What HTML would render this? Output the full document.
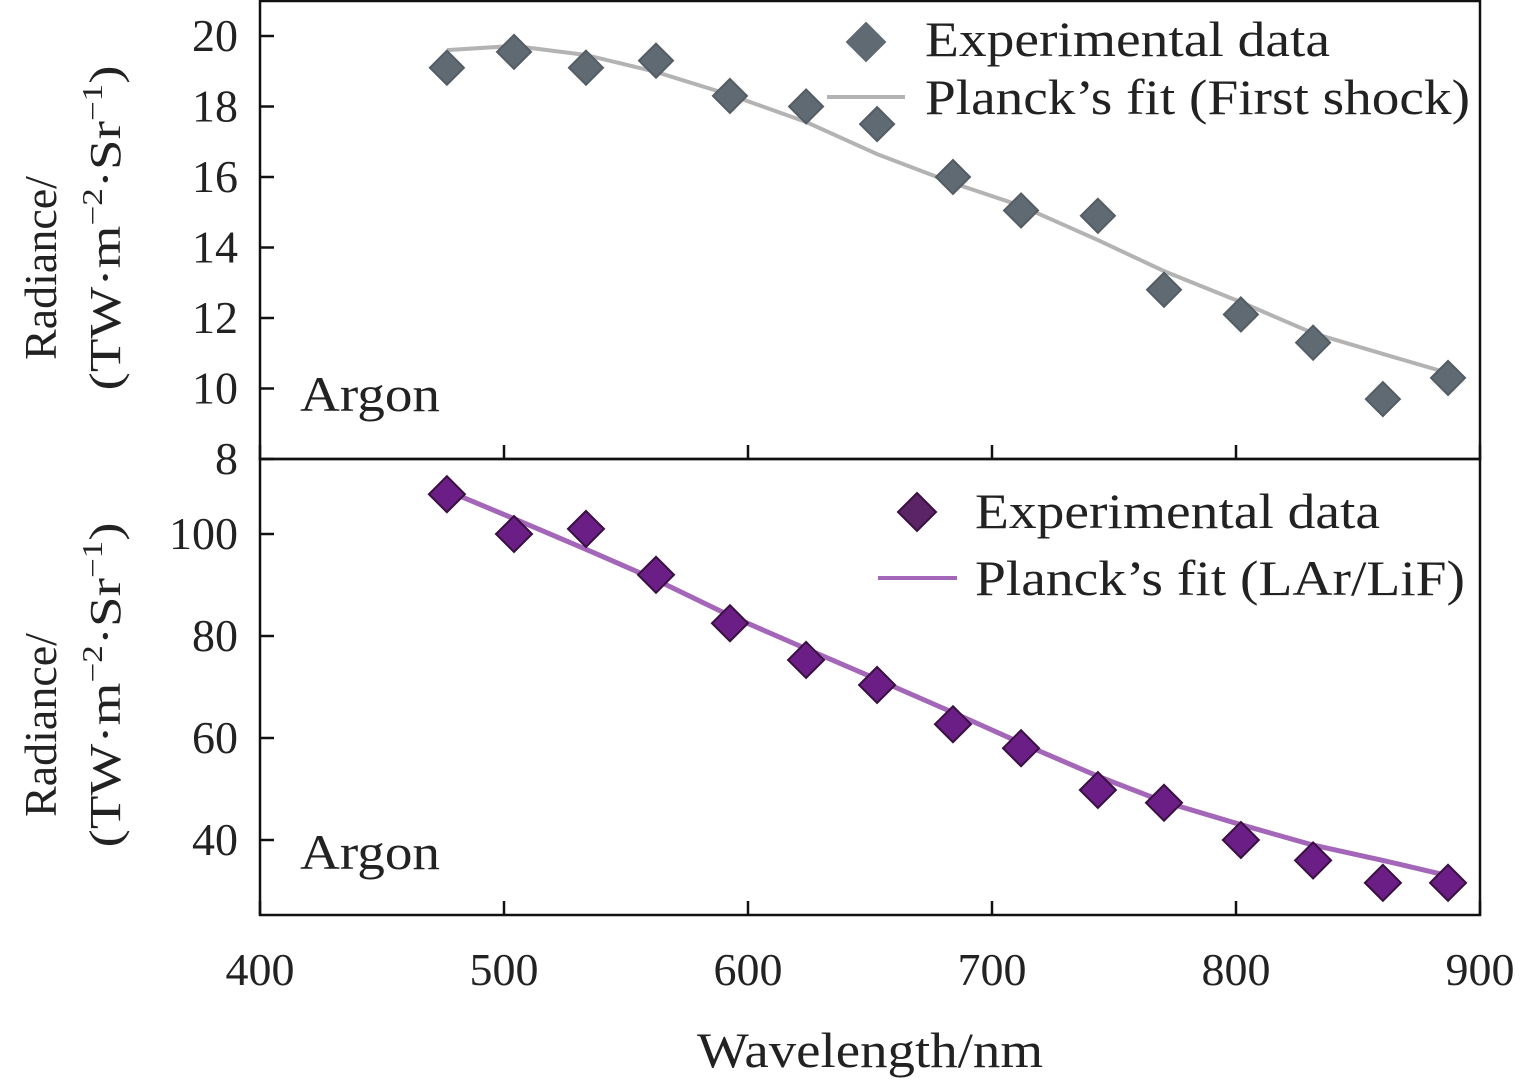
<!DOCTYPE html>
<html><head><meta charset="utf-8"><style>
html,body{margin:0;padding:0;background:#fff;}
svg{display:block;font-family:"Liberation Serif","Times New Roman",serif;}
</style></head><body>
<svg id="chart" width="1535" height="1085" xmlns="http://www.w3.org/2000/svg"></svg>
<script>
const wavelengths=[476.6,504.1,533.6,562.3,592.6,623.8,652.9,684,711.9,743.4,770.5,802,831.6,860.2,886.9];
const topValues=[19.1,19.55,19.1,19.3,18.3,18.0,17.5,16.0,15.05,14.9,12.8,12.1,11.3,9.7,10.3];
const topFit=[19.6,19.72,19.46,18.98,18.33,17.56,16.65,15.83,15.18,14.21,13.33,12.45,11.57,10.98,10.44];
const botValues=[107.8,100,101,92,82.5,75.3,70.4,62.7,58,49.8,47.3,40,36,31.6,31.6];
const botFit=[108.5,103,97,91,84,77.5,71.5,65,59,52.5,47.5,43,39,36,33];
const xTicks=[400,500,600,700,800,900];
const topTicks=[8,10,12,14,16,18,20];
const botTicks=[40,60,80,100];

const NS="http://www.w3.org/2000/svg";
const svg=document.getElementById('chart');
function el(t,a,p){const e=document.createElementNS(NS,t);for(const k in a)e.setAttribute(k,a[k]);(p||svg).appendChild(e);return e;}
const X=v=>260+(v-400)*2.44;
const YT=v=>459-(v-8)*35.25;
const YB=v=>840-(v-40)*5.1;
const L=260,R=1480;

let f=el('rect',{x:L,y:1,width:R-L,height:458,fill:'none',stroke:'#111','stroke-width':2.5});

f=el('rect',{x:L,y:459,width:R-L,height:456,fill:'none',stroke:'#111','stroke-width':2.5});


xTicks.forEach(v=>{
  let t=el('line',{x1:X(v),x2:X(v),y1:459,y2:445,stroke:'#111','stroke-width':2.5});
  
  t=el('line',{x1:X(v),x2:X(v),y1:915,y2:901,stroke:'#111','stroke-width':2.5});
  
  const tx=el('text',{x:X(v),y:985,'font-size':46,'text-anchor':'middle',fill:'#222'});tx.textContent=v;
  
});
topTicks.forEach(v=>{
  const t=el('line',{x1:L,x2:L+14,y1:YT(v),y2:YT(v),stroke:'#111','stroke-width':2.5});
  
  const tx=el('text',{x:238,y:YT(v)+15,'font-size':46,'text-anchor':'end',fill:'#222'});tx.textContent=v;
  
});
botTicks.forEach(v=>{
  const t=el('line',{x1:L,x2:L+14,y1:YB(v),y2:YB(v),stroke:'#111','stroke-width':2.5});
  
  const tx=el('text',{x:238,y:YB(v)+15,'font-size':46,'text-anchor':'end',fill:'#222'});tx.textContent=v;
  
});

function diamond(cx,cy,s,fill,stroke){return el('polygon',{points:`${cx},${cy-s} ${cx+s},${cy} ${cx},${cy+s} ${cx-s},${cy}`,fill:fill,stroke:stroke,'stroke-width':2});}

let p=el('polyline',{points:wavelengths.map((w,i)=>X(w)+','+YT(topFit[i])).join(' '),fill:'none',stroke:'#b3b3b3','stroke-width':4,'stroke-linejoin':'round'});

p=el('polyline',{points:wavelengths.map((w,i)=>X(w)+','+YB(botFit[i])).join(' '),fill:'none',stroke:'#a466b8','stroke-width':5,'stroke-linejoin':'round'});


wavelengths.forEach((w,i)=>{
  let d=diamond(X(w),YT(topValues[i]),17,'#5f6a72','#545d64');
  
  d=diamond(X(w),YB(botValues[i]),18,'#6a1e86','#3a1040');
  
});

let d=diamond(866,42,19,'#5f6a72','#5f6a72');
let ln=el('line',{x1:827,x2:905,y1:97,y2:97,stroke:'#b3b3b3','stroke-width':4});
d=diamond(917,512,19,'#5a2466','#3a1040');
ln=el('line',{x1:878,x2:957,y1:578,y2:578,stroke:'#a466b8','stroke-width':4});

function txt(x,y,s,str,name,len,extra){const t=el('text',Object.assign({x:x,y:y,'font-size':s,fill:'#222',textLength:len,lengthAdjust:'spacingAndGlyphs'},extra||{}));t.textContent=str;return t;}
txt(925,56,50,'Experimental data','top-legend-data-label',405);
txt(925,114,50,'Planck’s fit (First shock)','top-legend-fit-label',545);
txt(975,528,50,'Experimental data','bottom-legend-data-label',405);
txt(975,595,50,'Planck’s fit (LAr/LiF)','bottom-legend-fit-label',490);
txt(300,411,50,'Argon','top-panel-label',140);
txt(300,869,50,'Argon','bottom-panel-label',140);
txt(697,1067,50,'Wavelength/nm','x-axis-title',346);

function ytitle(c1,c2,name){
  const g=el('g',{transform:`rotate(-90)`});
  
  const t1=el('text',{x:-c1,y:56,'font-size':46,'text-anchor':'middle',fill:'#222'},g);t1.textContent='Radiance/';
  const t2=el('text',{x:-c2,y:120,'font-size':44,'text-anchor':'middle',fill:'#222',textLength:325,lengthAdjust:'spacingAndGlyphs'},g);
  t2.innerHTML='(TW·m<tspan font-size="28" dy="-18">−2</tspan><tspan dy="18">·Sr</tspan><tspan font-size="28" dy="-18">−1</tspan><tspan dy="18">)</tspan>';
}
ytitle(268,228,'top-y-axis-title');
ytitle(725,685,'bottom-y-axis-title');
</script>
</body></html>
